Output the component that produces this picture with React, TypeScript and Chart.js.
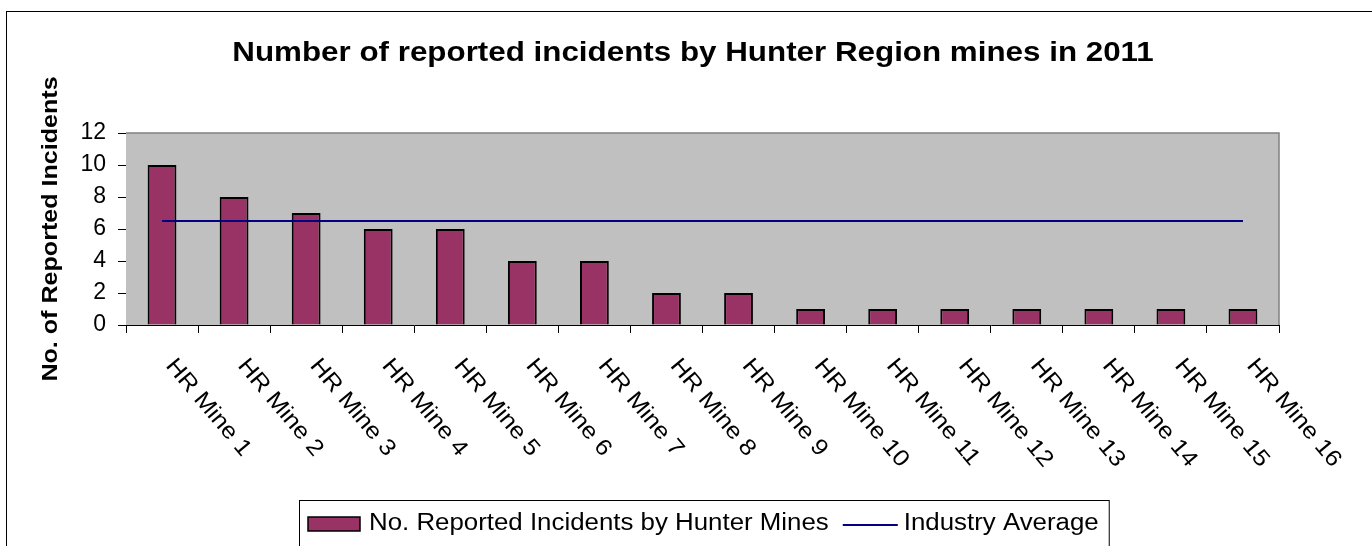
import React, { useEffect, useRef } from "react";
import { Chart, registerables } from "chart.js";

Chart.register(...registerables);

const titleText = "Number of reported incidents by Hunter Region mines in 2011";
const yAxisTitle = "No. of Reported Incidents";
const categories = [
  "HR Mine 1", "HR Mine 2", "HR Mine 3", "HR Mine 4", "HR Mine 5", "HR Mine 6",
  "HR Mine 7", "HR Mine 8", "HR Mine 9", "HR Mine 10", "HR Mine 11", "HR Mine 12",
  "HR Mine 13", "HR Mine 14", "HR Mine 15", "HR Mine 16",
];
const incidents = [10, 8, 7, 6, 6, 4, 4, 2, 2, 1, 1, 1, 1, 1, 1, 1];
const industryAverage = [6.5, 6.5, 6.5, 6.5, 6.5, 6.5, 6.5, 6.5, 6.5, 6.5, 6.5, 6.5, 6.5, 6.5, 6.5, 6.5];
const barLabel = "No. Reported Incidents by Hunter Mines";
const lineLabel = "Industry Average";

const FONT = '"Liberation Sans", Arial, sans-serif';
const BAR_COLOR = "#993366";
const LINE_COLOR = "#000080";
const STRETCH = 1.1;

const decorPlugin = {
  id: "decor",
  beforeDatasetsDraw(chart: any) {
    const { ctx, chartArea: a } = chart;
    ctx.save();
    ctx.fillStyle = "#C0C0C0";
    ctx.fillRect(a.left, a.top, a.right - a.left, a.bottom - a.top);
    ctx.strokeStyle = "#808080";
    ctx.lineWidth = 1.5;
    ctx.beginPath();
    ctx.moveTo(a.left, a.top);
    ctx.lineTo(a.right, a.top);
    ctx.lineTo(a.right, a.bottom);
    ctx.stroke();
    ctx.restore();
  },
  afterDraw(chart: any) {
    const { ctx } = chart;
    ctx.save();
    // outer border
    ctx.strokeStyle = "#000";
    ctx.lineWidth = 1;
    ctx.strokeRect(6.5, 11.5, 1500, 700);

    // title
    ctx.fillStyle = "#000";
    ctx.save();
    ctx.translate(693, 61);
    ctx.scale(STRETCH, 1);
    ctx.font = `bold 28.5px ${FONT}`;
    ctx.textAlign = "center";
    ctx.textBaseline = "alphabetic";
    ctx.fillText(titleText, 0, 0);
    ctx.restore();

    // y axis title, centred on the plot area
    const a = chart.chartArea;
    ctx.save();
    ctx.translate(57, (a.top + a.bottom) / 2);
    ctx.rotate(-Math.PI / 2);
    ctx.scale(1.14, 1);
    ctx.font = `bold 22px ${FONT}`;
    ctx.textAlign = "center";
    ctx.textBaseline = "alphabetic";
    ctx.fillText(yAxisTitle, 0, 0);
    ctx.restore();

    // x labels, rotated clockwise
    const xs = chart.scales.x;
    ctx.font = `23px ${FONT}`;
    ctx.textAlign = "left";
    ctx.textBaseline = "alphabetic";
    categories.forEach((lab, i) => {
      const cx = xs.getPixelForValue(i);
      ctx.save();
      ctx.translate(cx + 3, 366);
      ctx.rotate((50 * Math.PI) / 180);
      ctx.scale(STRETCH, 1);
      ctx.fillText(lab, 0, 0);
      ctx.restore();
    });

    // legend
    const ds = chart.data.datasets;
    const bar = ds.find((d: any) => d.type === "bar");
    const line = ds.find((d: any) => d.type === "line");
    ctx.font = `23.5px ${FONT}`;
    ctx.textBaseline = "alphabetic";
    const base = 530;
    ctx.fillStyle = bar.backgroundColor;
    ctx.fillRect(308, 517, 52, 14);
    ctx.strokeStyle = "#000";
    ctx.lineWidth = 1.5;
    ctx.strokeRect(308, 517, 52, 14);
    let x = 369;
    ctx.fillStyle = "#000";
    ctx.save();
    ctx.translate(x, base);
    ctx.scale(STRETCH, 1);
    ctx.fillText(bar.label, 0, 0);
    ctx.restore();
    x += ctx.measureText(bar.label).width * STRETCH + 14;
    ctx.strokeStyle = line.borderColor;
    ctx.lineWidth = 2;
    ctx.beginPath();
    ctx.moveTo(x, 525);
    ctx.lineTo(x + 55, 525);
    ctx.stroke();
    x += 61;
    ctx.save();
    ctx.translate(x, base);
    ctx.scale(STRETCH, 1);
    ctx.fillText(line.label, 0, 0);
    ctx.restore();
    x += ctx.measureText(line.label).width * STRETCH + 10;
    ctx.strokeStyle = "#000";
    ctx.lineWidth = 1;
    ctx.strokeRect(299.5, 500.5, x - 299, 100);
    ctx.restore();
  },
};

export default function App() {
  const ref = useRef<HTMLCanvasElement>(null);
  useEffect(() => {
    document.body.style.margin = "0";
    const chart = new Chart(ref.current!, {
      type: "bar",
      data: {
        labels: categories,
        datasets: [
          {
            type: "bar",
            label: barLabel,
            data: incidents,
            backgroundColor: BAR_COLOR,
            borderColor: "#000",
            borderWidth: 2,
            barPercentage: 0.4,
            categoryPercentage: 1,
            order: 1,
          },
          {
            type: "line",
            label: lineLabel,
            data: industryAverage,
            borderColor: LINE_COLOR,
            backgroundColor: LINE_COLOR,
            borderWidth: 2,
            pointRadius: 0,
            order: 0,
          } as any,
        ],
      },
      options: {
        responsive: false,
        animation: false,
        layout: { padding: { left: 66, top: 133, right: 93, bottom: 121 } },
        plugins: { legend: { display: false }, title: { display: false }, tooltip: { enabled: false } },
        scales: {
          x: {
            offset: true,
            grid: { offset: true, drawOnChartArea: false, drawTicks: true, tickLength: 8, color: "#000" },
            border: { color: "#000", width: 1 },
            ticks: { display: false },
            afterFit: (s: any) => { s.height = 100; },
          },
          y: {
            min: 0,
            max: 12,
            ticks: { stepSize: 2, color: "#000", font: { family: FONT, size: 23 }, padding: 12 },
            grid: { drawOnChartArea: false, drawTicks: true, tickLength: 8, color: "#000" },
            border: { color: "#000", width: 1 },
            afterFit: (s: any) => { s.width = 60; },
          },
        },
      },
      plugins: [decorPlugin],
    });
    return () => chart.destroy();
  }, []);
  return (
    <div style={{ position: "absolute", left: 0, top: 0, width: 1372, height: 546 }}>
      <canvas ref={ref} width={1372} height={546} style={{ display: "block" }} />
    </div>
  );
}
